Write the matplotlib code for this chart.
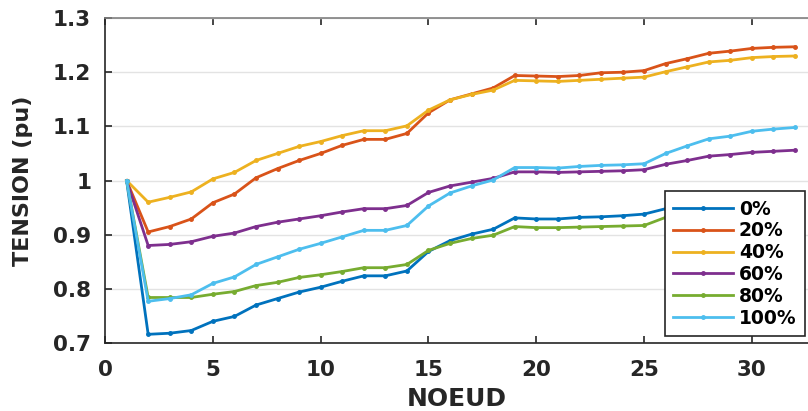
import matplotlib
matplotlib.use('Agg')
import matplotlib.pyplot as plt

# Node numbers
nodes = list(range(1, 33))

# Voltage profiles (pu) per penetration level
v_0 = [1.0, 0.716, 0.718, 0.723, 0.740, 0.749, 0.770, 0.782, 0.794, 0.803, 0.814,
       0.824, 0.824, 0.833, 0.869, 0.889, 0.901, 0.910, 0.931, 0.929, 0.929, 0.932,
       0.933, 0.935, 0.938, 0.948, 0.957, 0.963, 0.967, 0.971, 0.974, 0.976]
v_20 = [1.0, 0.905, 0.915, 0.929, 0.959, 0.975, 1.005, 1.022, 1.037, 1.050, 1.065,
        1.076, 1.076, 1.087, 1.125, 1.149, 1.160, 1.171, 1.194, 1.193, 1.192, 1.194,
        1.199, 1.200, 1.203, 1.216, 1.225, 1.235, 1.239, 1.244, 1.246, 1.247]
v_40 = [1.0, 0.960, 0.969, 0.979, 1.003, 1.015, 1.037, 1.050, 1.063, 1.072, 1.083,
        1.092, 1.092, 1.101, 1.130, 1.149, 1.159, 1.167, 1.185, 1.184, 1.183, 1.185,
        1.187, 1.189, 1.191, 1.201, 1.210, 1.219, 1.222, 1.227, 1.229, 1.230]
v_60 = [1.0, 0.880, 0.882, 0.887, 0.897, 0.903, 0.915, 0.923, 0.929, 0.935, 0.942,
        0.948, 0.948, 0.954, 0.978, 0.990, 0.997, 1.004, 1.016, 1.016, 1.015, 1.016,
        1.017, 1.018, 1.020, 1.030, 1.037, 1.045, 1.048, 1.052, 1.054, 1.056]
v_80 = [1.0, 0.784, 0.784, 0.784, 0.790, 0.795, 0.806, 0.812, 0.821, 0.826, 0.832,
        0.839, 0.839, 0.845, 0.871, 0.884, 0.893, 0.899, 0.915, 0.913, 0.913, 0.914,
        0.915, 0.916, 0.917, 0.932, 0.942, 0.950, 0.954, 0.958, 0.960, 0.962]
v_100 = [1.0, 0.777, 0.782, 0.789, 0.810, 0.822, 0.845, 0.859, 0.873, 0.884, 0.896,
         0.908, 0.908, 0.917, 0.953, 0.977, 0.990, 1.001, 1.024, 1.024, 1.023, 1.026,
         1.028, 1.029, 1.031, 1.050, 1.064, 1.077, 1.082, 1.091, 1.095, 1.098]

labels = ['0%', '20%', '40%', '60%', '80%', '100%']
colors = ['#0072BD', '#D95319', '#EDB120', '#7E2F8E', '#77AC30', '#4DBEEE']

plt.rcParams['font.family'] = ['DejaVu Sans']
plt.rcParams['font.weight'] = 'bold'

fig = plt.figure(figsize=(8.08, 4.11), dpi=100)
ax = fig.add_axes([0.13, 0.1655, 0.87, 0.7905])

series = [v_0, v_20, v_40, v_60, v_80, v_100]
for vals, lab, col in zip(series, labels, colors):
    ax.plot(nodes, vals, color=col, linewidth=2.0, marker='.', markersize=5, label=lab)

ax.set_xlim(0, 32.6)
ax.set_ylim(0.7, 1.3)
ax.set_xticks([0, 5, 10, 15, 20, 25, 30])
ax.set_yticks([0.7, 0.8, 0.9, 1.0, 1.1, 1.2, 1.3])
ax.set_yticklabels(['0.7', '0.8', '0.9', '1', '1.1', '1.2', '1.3'])
ax.yaxis.grid(True, color='#e3e3e3', linewidth=1)
ax.set_axisbelow(True)

ax.tick_params(direction='in', length=5, width=1.2, colors='#262626', labelsize=15.5,
               top=True, right=False)
ax.tick_params(axis='x', pad=12)
ax.tick_params(axis='y', pad=10)
for side in ['left', 'bottom', 'top']:
    ax.spines[side].set_color('#262626')
    ax.spines[side].set_linewidth(1.2)
ax.spines['top'].set_color('#808080')
ax.spines['right'].set_visible(False)

ax.set_xlabel('NOEUD', fontsize=18, fontweight='bold', color='#262626', labelpad=5)
ax.set_ylabel('TENSION (pu)', fontsize=16, fontweight='bold', color='#262626', labelpad=14)

leg = ax.legend(loc='lower right', bbox_to_anchor=(805 / 808, 1 - 336 / 411),
                bbox_transform=fig.transFigure, borderaxespad=0, fontsize=13.5,
                frameon=True, fancybox=False, framealpha=1, edgecolor='#262626',
                handlelength=3.2, labelspacing=0.15, borderpad=0.45, handletextpad=0.3)
leg.get_frame().set_linewidth(1.2)
for t in leg.get_texts():
    t.set_fontweight('bold')

fig.savefig('out.png', dpi=100)
